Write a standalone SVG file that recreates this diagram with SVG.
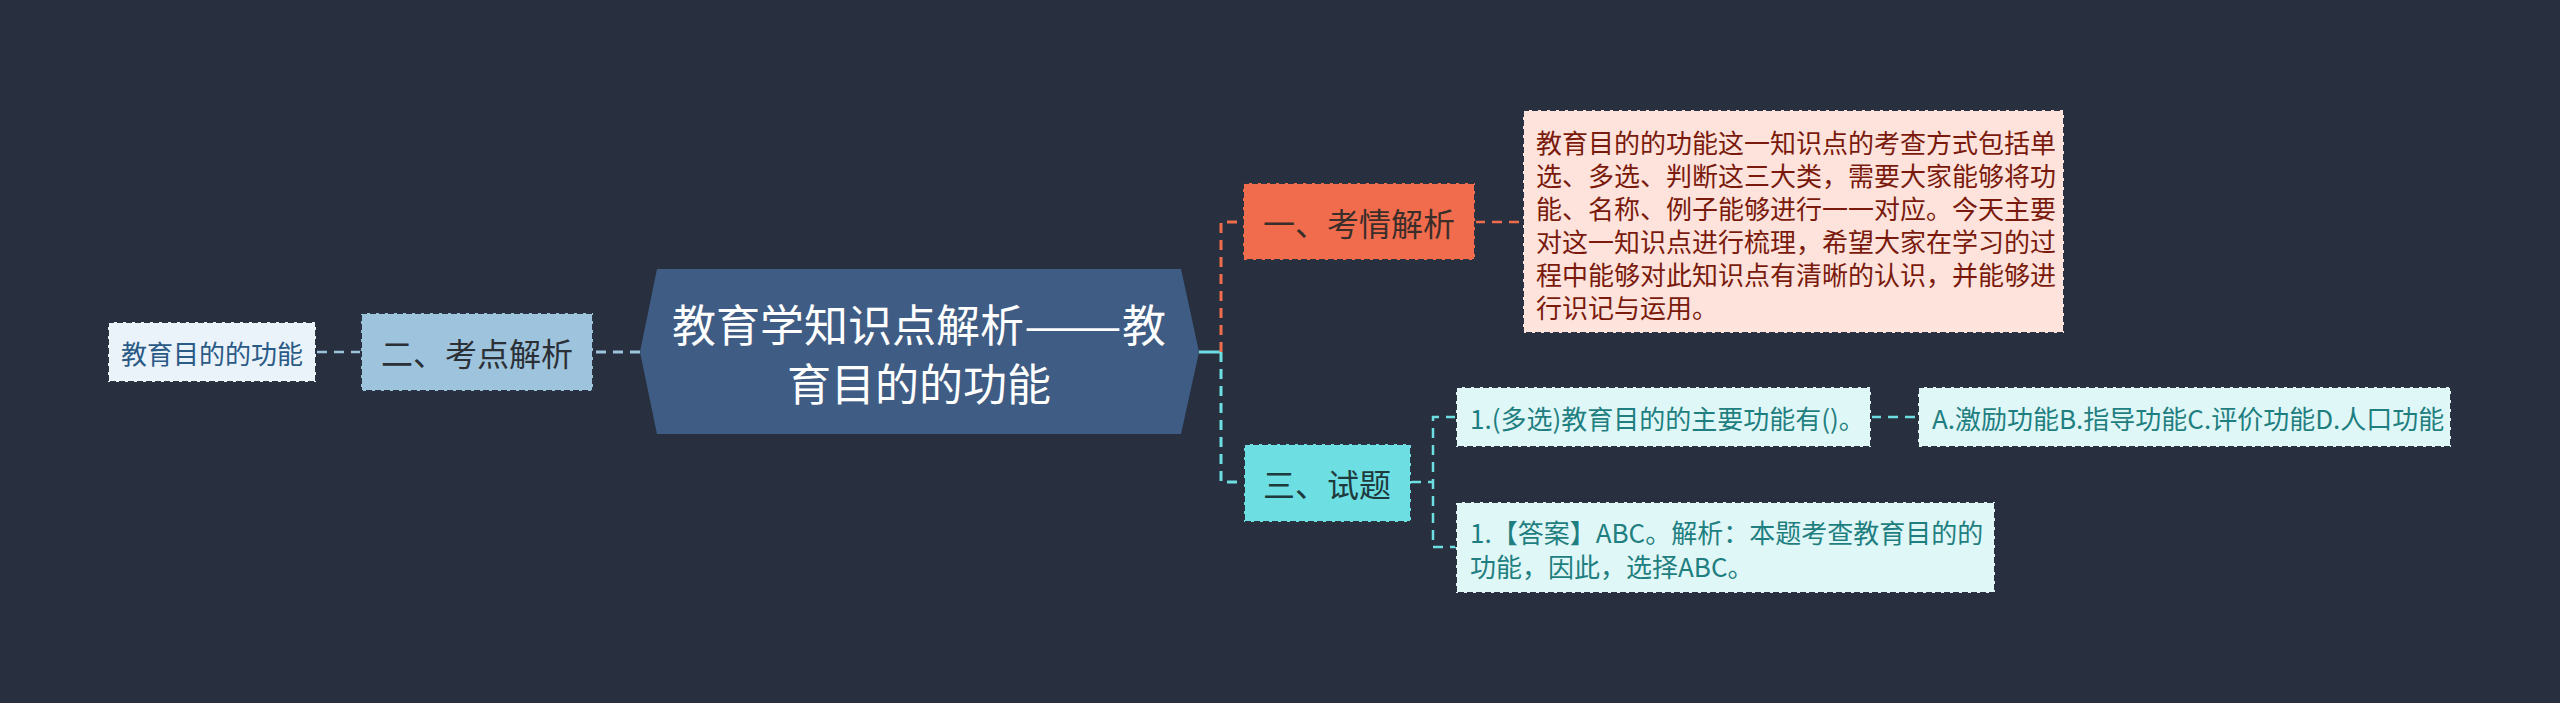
<svg xmlns="http://www.w3.org/2000/svg" width="2560" height="703" viewBox="0 0 2560 703">
<style>
text{font-family:"Noto Sans CJK SC","Noto Sans",sans-serif;dominant-baseline:central}
.box{stroke:#2a3140;stroke-width:2;stroke-dasharray:6 3}
.c{fill:none;stroke-width:3;stroke-dasharray:10 7}
.t{fill:none;stroke-width:2.5;stroke-dasharray:10 7}
.s26{font-size:26px}
.s32{font-size:32px}
</style>
<rect width="2560" height="703" fill="#28303f"/>
<g id="connectors">
<line class="c" x1="640" y1="352" x2="593" y2="352" stroke="#9ec3dc"/>
<line class="t" x1="361" y1="352" x2="316" y2="352" stroke="#9ec3dc"/>
<line x1="1199" y1="352" x2="1221" y2="352" stroke="#6ddfe3" stroke-width="3"/>
<polyline class="c" points="1221,352 1221,222 1243,222" stroke="#f06c4d"/>
<polyline class="c" points="1221,352 1221,482 1244,482" stroke="#6ddfe3"/>
<line class="t" x1="1475" y1="222" x2="1523" y2="222" stroke="#f06c4d"/>
<polyline class="t" points="1411,482 1433,482" stroke="#6ddfe3"/>
<polyline class="t" points="1456,417 1433,417 1433,547 1456,547" stroke="#6ddfe3"/>
<line class="t" x1="1871" y1="417" x2="1918" y2="417" stroke="#6ddfe3"/>
</g>
<g id="root">
<polygon points="657,269 1181,269 1199,352 1181,434 657,434 640,352" fill="#3f5d84"/>
<text x="672" y="323" font-size="44" fill="#ffffff">教育学知识点解析<tspan textLength="98" lengthAdjust="spacingAndGlyphs">——</tspan>教</text>
<text x="919" y="382" font-size="44" fill="#ffffff" text-anchor="middle">育目的的功能</text>
</g>
<g id="n2">
<rect class="box" x="361" y="313" width="232" height="78" fill="#9ec3dc"/>
<text class="s32" x="477" y="352" fill="#2b2f36" text-anchor="middle">二、考点解析</text>
</g>
<g id="n2a">
<rect class="box" x="108" y="322" width="208" height="60" fill="#eaf3f9"/>
<text class="s26" x="212" y="352" fill="#2a5a86" text-anchor="middle">教育目的的功能</text>
</g>
<g id="n1">
<rect class="box" x="1243" y="183" width="232" height="77" fill="#f06c4d"/>
<text class="s32" x="1359" y="222" fill="#3a2e2b" text-anchor="middle">一、考情解析</text>
</g>
<g id="n1a">
<rect class="box" x="1523" y="110" width="541" height="223" fill="#fde3dc"/>
<g class="s26" fill="#7a1a0c">
<text x="1536" y="141">教育目的的功能这一知识点的考查方式包括单</text>
<text x="1536" y="174">选、多选、判断这三大类，需要大家能够将功</text>
<text x="1536" y="207">能、名称、例子能够进行一一对应。今天主要</text>
<text x="1536" y="240">对这一知识点进行梳理，希望大家在学习的过</text>
<text x="1536" y="273">程中能够对此知识点有清晰的认识，并能够进</text>
<text x="1536" y="306">行识记与运用。</text>
</g>
</g>
<g id="n3">
<rect class="box" x="1244" y="444" width="167" height="78" fill="#6ddfe3"/>
<text class="s32" x="1327" y="483" fill="#1f3a3d" text-anchor="middle">三、试题</text>
</g>
<g id="q1">
<rect class="box" x="1456" y="387" width="415" height="60" fill="#e0f7f8"/>
<text class="s26" x="1470" y="417" fill="#1f7f80">1.(多选)教育目的的主要功能有()。</text>
</g>
<g id="q1a">
<rect class="box" x="1918" y="387" width="533" height="60" fill="#e0f7f8"/>
<text class="s26" x="1932" y="417" fill="#1f7f80">A.激励功能B.指导功能C.评价功能D.人口功能</text>
</g>
<g id="ans">
<rect class="box" x="1456" y="502" width="539" height="91" fill="#e0f7f8"/>
<text class="s26" x="1470" y="531" fill="#1f7f80">1.【答案】ABC。解析：本题考查教育目的的</text>
<text class="s26" x="1470" y="565" fill="#1f7f80">功能，因此，选择ABC。</text>
</g>
</svg>
